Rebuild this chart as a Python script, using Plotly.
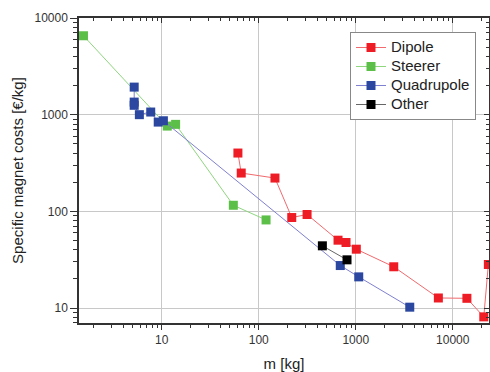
import plotly.graph_objects as go

# Data
dipole_m = [61, 66, 147, 219, 315, 657, 794, 1014, 2466, 7110, 14000, 20900, 23300]
dipole_c = [401, 249, 221, 86.3, 92.8, 50.3, 47.6, 40.6, 26.7, 12.7, 12.6, 8.1, 28.2]

steerer_m = [1.56, 11.4, 13.9, 54.7, 119]
steerer_c = [6550, 762, 794, 115.6, 81.5]

quad_m = [5.2, 5.2, 5.2, 5.88, 7.7, 9.2, 10.4, 693, 1074, 3606]
quad_c = [1928, 1349, 1250, 1000, 1065, 838, 865, 27.5, 21.0, 10.2]

other_m = [453, 813]
other_c = [44.0, 31.5]

x_tickvals = [10, 100, 1000, 10000]
x_ticktext = ["10", "100", "1000", "10000"]
y_tickvals = [10, 100, 1000, 10000]
y_ticktext = ["10", "100", "1000", "10000"]

minor_x = [d * 10 ** e for e in range(0, 5) for d in range(2, 10)] + [1, 10, 100, 1000, 10000]
minor_y = [d * 10 ** e for e in range(0, 4) for d in range(2, 10)]

XR = [0.147, 4.374]
YR = [0.845, 4.0]

font_fam = "Liberation Sans, Arial, sans-serif"

fig = go.Figure()

def add(name, xs, ys, mcol, lcol, x2=False):
    fig.add_trace(go.Scatter(
        x=xs, y=ys, name='<span style="font-size:15px">%s</span>' % name,
        mode="lines+markers",
        line=dict(color=lcol, width=1),
        marker=dict(symbol="square", size=9, color=mcol, line=dict(width=0)),
        xaxis="x2" if x2 else "x", yaxis="y2" if x2 else "y",
    ))

add("Dipole", dipole_m, dipole_c, "#ee1d25", "#f06a6e")
add("Steerer", steerer_m, steerer_c, "#5cbf48", "#8fd67f")
add("Quadrupole", quad_m, quad_c, "#2b47a0", "#8080d0")
add("Other", other_m, other_c, "#000000", "#666666", x2=True)

axis_common = dict(
    type="log", showline=True, linecolor="#333333", linewidth=1.5,
    tickfont=dict(family=font_fam, size=12, color="#333333"),
    tickcolor="#333333", tickwidth=1,
)

fig.update_layout(
    width=490, height=372,
    margin=dict(l=79, r=1, t=18, b=49),
    paper_bgcolor="white", plot_bgcolor="white",
    font=dict(family=font_fam, color="#222222"),
    showlegend=True,
    legend=dict(
        x=(350 - 79) / 410, y=1 - (32 - 18) / 305, xanchor="left", yanchor="top",
        font=dict(family=font_fam, size=12, color="#222222"),
        bordercolor="#888888", borderwidth=1, bgcolor="white",
        tracegroupgap=0, itemwidth=30,
    ),
    xaxis=dict(
        **axis_common, range=XR, tickvals=x_tickvals, ticktext=x_ticktext,
        ticks="outside", ticklen=5,
        showgrid=True, gridcolor="#c8c8c8", gridwidth=1,
        minor=dict(tickvals=minor_x, ticks="outside", ticklen=3, tickcolor="#333333", showgrid=False),
        title=dict(text="m [kg]", font=dict(family=font_fam, size=15, color="#222222"), standoff=12),
        zeroline=False, automargin=False,
    ),
    yaxis=dict(
        **axis_common, range=YR, tickvals=y_tickvals, ticktext=y_ticktext,
        ticks="outside", ticklen=7,
        showgrid=True, gridcolor="#c8c8c8", gridwidth=1,
        minor=dict(tickvals=minor_y, ticks="outside", ticklen=4, tickcolor="#333333", showgrid=False),
        title=dict(text="Specific magnet costs [€/kg]", font=dict(family=font_fam, size=15, color="#222222"), standoff=7),
        zeroline=False, automargin=False,
    ),
    xaxis2=dict(
        **axis_common, range=XR, overlaying="x", side="top", anchor="y2",
        tickvals=x_tickvals, ticks="inside", ticklen=5, showticklabels=False,
        showgrid=False, zeroline=False, automargin=False,
        minor=dict(tickvals=minor_x, ticks="inside", ticklen=3, tickcolor="#333333", showgrid=False),
    ),
    yaxis2=dict(
        **axis_common, range=YR, overlaying="y", side="right", anchor="x2",
        tickvals=y_tickvals, ticks="inside", ticklen=5, showticklabels=False,
        showgrid=False, zeroline=False, automargin=False,
        minor=dict(tickvals=minor_y, ticks="inside", ticklen=3, tickcolor="#333333", showgrid=False),
    ),
)

fig.write_html(
    "out.html",
    config={"displayModeBar": False},
    post_script="document.body.style.margin='0';document.body.style.overflow='hidden';",
)
